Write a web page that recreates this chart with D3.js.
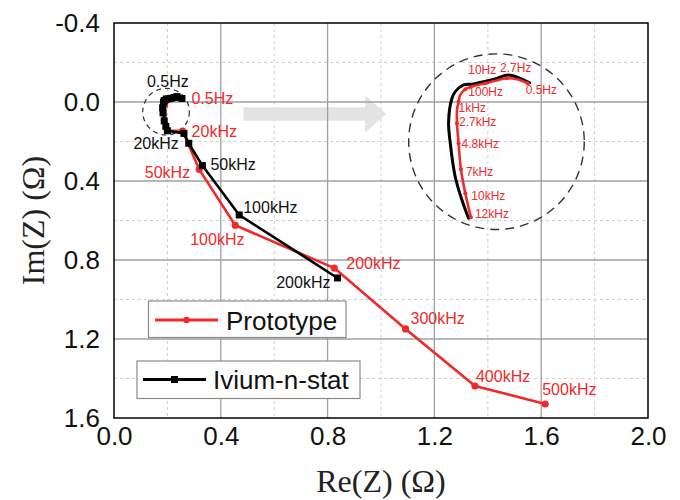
<!DOCTYPE html>
<html>
<head>
<meta charset="utf-8">
<script src="https://cdn.jsdelivr.net/npm/d3@7/dist/d3.min.js"></script>
<style>
  html, body { margin: 0; padding: 0; background: #fff; }
  svg { display: block; }
</style>
</head>
<body>
<svg id="chart" width="680" height="500"></svg>
<script>
// ---------------- data ----------------
const xTicks = [0.0, 0.4, 0.8, 1.2, 1.6, 2.0];
const yTicks = [-0.4, 0.0, 0.4, 0.8, 1.2, 1.6];
const xMinor = [0.2, 0.6, 1.0, 1.4, 1.8];
const yMinor = [-0.2, 0.2, 0.6, 1.0, 1.4];

const protoRe = [0.2527, 0.2432, 0.2343, 0.2238, 0.2149, 0.2045, 0.1971, 0.1926, 0.1911, 0.1897, 0.1897, 0.1911, 0.1932, 0.1971, 0.2021, 0.257, 0.319, 0.454, 0.825, 1.092, 1.352, 1.615];
const protoIm = [-0.0172, -0.0220, -0.0232, -0.0203, -0.0172, -0.0139, -0.0100, -0.0031, 0.0050, 0.0150, 0.0310, 0.0551, 0.0865, 0.1154, 0.1443, 0.147, 0.341, 0.624, 0.841, 1.149, 1.438, 1.529];
const protoFreq = ["0.5Hz", "", "2.7Hz", "", "10Hz", "", "100Hz", "", "1kHz", "", "2.7kHz", "4.8kHz", "7kHz", "10kHz", "12kHz", "20kHz", "50kHz", "100kHz", "200kHz", "300kHz", "400kHz", "500kHz"];

const iviumRe = [0.2544, 0.2357, 0.2253, 0.2134, 0.2045, 0.1955, 0.1881, 0.1852, 0.1822, 0.1837, 0.1881, 0.1941, 0.2000, 0.262, 0.280, 0.331, 0.469, 0.837];
const iviumIm = [-0.0179, -0.0272, -0.0232, -0.0191, -0.0164, -0.0152, -0.0071, 0.0009, 0.0291, 0.0551, 0.0954, 0.1235, 0.1455, 0.159, 0.209, 0.322, 0.572, 0.891];
const iviumFreq = ["0.5Hz", "", "", "", "", "", "", "", "", "", "", "", "20kHz", "", "", "50kHz", "100kHz", "200kHz"];

const protoMainLabels = ["0.5Hz", "20kHz", "50kHz", "100kHz", "200kHz", "300kHz", "400kHz", "500kHz"];
const protoInsetLabels = ["0.5Hz", "2.7Hz", "10Hz", "100Hz", "1kHz", "2.7kHz", "4.8kHz", "7kHz", "10kHz", "12kHz"];
const iviumMainLabels = ["0.5Hz", "20kHz", "50kHz", "100kHz", "200kHz"];

const seriesNames = ["Prototype", "Ivium-n-stat"];
const xTitle = "Re(Z) (Ω)";
const yTitle = "Im(Z) (Ω)";

// zoom (inset) geometry in data units
const zoomSrc = [0.2249, 0.0532];     // centre of magnified region
const zoomDst = [1.4325, 0.201];      // centre of inset
const zoomK = 4.2;
const smallCircle = [0.195, 0.049];
const arrowFrom = [0.485, 0.0608], arrowTo = [1.019, 0.0608];

// ---------------- styles ----------------
const RED = "#ee2a2a", BLACK = "#000";
const protoMainOff = {
  "0.5Hz": [10, 5, "start"], "20kHz": [9, 6, "start"], "50kHz": [-9, 9, "end"],
  "100kHz": [-45, 20, "start"], "200kHz": [12, 1, "start"], "300kHz": [5, -5, "start"],
  "400kHz": [1, -4, "start"], "500kHz": [-3, -9, "start"]
};
const iviumMainOff = {
  "0.5Hz": [-35, -11, "start"], "20kHz": [-34, 18, "start"], "50kHz": [8, 4, "start"],
  "100kHz": [4, -2, "start"], "200kHz": [-7, 10, "end"]
};
const protoInsetOff = {
  "0.5Hz": [-2, 11], "2.7Hz": [-7, -6], "10Hz": [-17, -9], "100Hz": [3, 7], "1kHz": [0, 10],
  "2.7kHz": [2, 3], "4.8kHz": [3, 5], "7kHz": [5, 7], "10kHz": [6, 7], "12kHz": [4, 1]
};

// ---------------- chart ----------------
const svg = d3.select("#chart");
const L = 114, R = 648, T = 23, B = 418;
const x = d3.scaleLinear().domain([0, 2]).range([L, R]);
const y = d3.scaleLinear().domain([-0.4, 1.6]).range([T, B]);

const proto = protoRe.map((v, i) => ({re: v, im: protoIm[i], f: protoFreq[i]}));
const ivium = iviumRe.map((v, i) => ({re: v, im: iviumIm[i], f: iviumFreq[i]}));

// grid
const g = svg.append("g");
g.selectAll(".xm").data(xMinor).join("line")
  .attr("x1", d => x(d)).attr("x2", d => x(d)).attr("y1", T).attr("y2", B)
  .attr("stroke", "#d0d0d0").attr("stroke-width", 1).attr("stroke-dasharray", "3,3");
g.selectAll(".ym").data(yMinor).join("line")
  .attr("y1", d => y(d)).attr("y2", d => y(d)).attr("x1", L).attr("x2", R)
  .attr("stroke", "#d0d0d0").attr("stroke-width", 1).attr("stroke-dasharray", "3,3");

// arrow (under major grid)
{
  const x0 = x(arrowFrom[0]), x1 = x(arrowTo[0]), yc = y(arrowFrom[1]);
  const headLen = 21, bodyH = 13.4, headH = 37.7;
  const pts = [[x0, yc - bodyH / 2], [x1 - headLen, yc - bodyH / 2], [x1 - headLen, yc - headH / 2], [x1, yc],
               [x1 - headLen, yc + headH / 2], [x1 - headLen, yc + bodyH / 2], [x0, yc + bodyH / 2]];
  svg.append("polygon").attr("points", pts.map(p => p.join(",")).join(" "))
    .attr("fill", "#e3e3e3");
}

const gm = svg.append("g");
gm.selectAll(".xg").data(xTicks.slice(1, -1)).join("line")
  .attr("x1", d => x(d)).attr("x2", d => x(d)).attr("y1", T).attr("y2", B)
  .attr("stroke", "#a0a0a0").attr("stroke-width", 1.3);
gm.selectAll(".yg").data(yTicks.slice(1, -1)).join("line")
  .attr("y1", d => y(d)).attr("y2", d => y(d)).attr("x1", L).attr("x2", R)
  .attr("stroke", "#a0a0a0").attr("stroke-width", 1.3);

// frame
svg.append("rect").attr("x", L).attr("y", T).attr("width", R - L).attr("height", B - T)
  .attr("fill", "none").attr("stroke", "#000").attr("stroke-width", 1.5);

// axes tick labels
const xAxis = d3.axisBottom(x).tickValues(xTicks).tickFormat(d3.format(".1f")).tickSize(0).tickPadding(9);
const yAxis = d3.axisLeft(y).tickValues(yTicks).tickFormat(d3.format(".1f")).tickSize(0).tickPadding(14);
const gx = svg.append("g").attr("transform", `translate(0,${B})`).call(xAxis);
const gy = svg.append("g").attr("transform", `translate(${L},0)`).call(yAxis);
[gx, gy].forEach(a => {
  a.select(".domain").remove();
  a.selectAll("text").attr("font-family", "'Liberation Sans', Arial, sans-serif")
    .attr("font-size", 26).attr("fill", "#111");
});
gy.selectAll("text").text(d => d3.format(".1f")(d).replace("−", "-"));

// axis titles
svg.append("text").attr("x", (L + R) / 2).attr("y", 492).attr("text-anchor", "middle")
  .attr("font-family", "'Liberation Serif', 'Times New Roman', serif").attr("font-size", 32)
  .attr("fill", "#222").text(xTitle);
svg.append("text").attr("transform", `translate(44,${(T + B) / 2}) rotate(-90)`).attr("text-anchor", "middle")
  .attr("font-family", "'Liberation Serif', 'Times New Roman', serif").attr("font-size", 32)
  .attr("fill", "#222").text(yTitle);

// dashed circles
svg.append("circle").attr("cx", x(smallCircle[0])).attr("cy", y(smallCircle[1])).attr("r", 23.3)
  .attr("fill", "none").attr("stroke", "#333").attr("stroke-width", 1.2).attr("stroke-dasharray", "5,4");
svg.append("circle").attr("cx", x(zoomDst[0])).attr("cy", y(zoomDst[1])).attr("r", 87.8)
  .attr("fill", "none").attr("stroke", "#333").attr("stroke-width", 1.4).attr("stroke-dasharray", "9,6");

// main lines
const line = d3.line().x(d => x(d.re)).y(d => y(d.im));
svg.append("path").attr("d", line(proto)).attr("fill", "none").attr("stroke", RED).attr("stroke-width", 2.6)
  .attr("stroke-linejoin", "round");
svg.selectAll(".pdot").data(proto.filter(d => protoMainLabels.includes(d.f) || d.f === "")).join("circle")
  .attr("cx", d => x(d.re)).attr("cy", d => y(d.im)).attr("r", 3.6).attr("fill", RED);

svg.append("path").attr("d", line(ivium)).attr("fill", "none").attr("stroke", BLACK).attr("stroke-width", 2.6)
  .attr("stroke-linejoin", "round");
svg.selectAll(".isq").data(ivium).join("rect")
  .attr("x", d => x(d.re) - 3.5).attr("y", d => y(d.im) - 3.5).attr("width", 7).attr("height", 7).attr("fill", BLACK);

// main labels
const lblFont = "'Liberation Sans', Arial, sans-serif";
svg.selectAll(".plab").data(proto.filter(d => protoMainLabels.includes(d.f))).join("text")
  .attr("x", d => x(d.re) + protoMainOff[d.f][0]).attr("y", d => y(d.im) + protoMainOff[d.f][1])
  .attr("text-anchor", d => protoMainOff[d.f][2])
  .attr("font-family", lblFont).attr("font-size", 16).attr("fill", RED).text(d => d.f);
svg.selectAll(".ilab").data(ivium.filter(d => iviumMainLabels.includes(d.f))).join("text")
  .attr("x", d => x(d.re) + iviumMainOff[d.f][0]).attr("y", d => y(d.im) + iviumMainOff[d.f][1])
  .attr("text-anchor", d => iviumMainOff[d.f][2])
  .attr("font-family", lblFont).attr("font-size", 16).attr("fill", "#111").text(d => d.f);

// inset (magnified view of the same data)
const ix = v => x(zoomDst[0]) + (x(v) - x(zoomSrc[0])) * zoomK;
const iy = v => y(zoomDst[1]) + (y(v) - y(zoomSrc[1])) * zoomK;
const insetLine = d3.line().x(d => ix(d.re)).y(d => iy(d.im)).curve(d3.curveCatmullRom.alpha(0.5));
const protoLow = proto.filter(d => d.im < 0.146 && d.re < 0.256);
const iviumLow = ivium.filter(d => d.im < 0.146 && d.re < 0.256);
svg.append("path").attr("d", insetLine(iviumLow)).attr("fill", "none").attr("stroke", BLACK)
  .attr("stroke-width", 3).attr("stroke-linejoin", "round").attr("stroke-linecap", "round");
svg.append("path").attr("d", insetLine(protoLow)).attr("fill", "none").attr("stroke", RED)
  .attr("stroke-width", 2.6).attr("stroke-linejoin", "round").attr("stroke-linecap", "round");
svg.selectAll(".idot").data(protoLow.filter(d => protoInsetLabels.includes(d.f))).join("circle")
  .attr("cx", d => ix(d.re)).attr("cy", d => iy(d.im)).attr("r", 2).attr("fill", RED);
svg.selectAll(".inlab").data(protoLow.filter(d => protoInsetLabels.includes(d.f))).join("text")
  .attr("x", d => ix(d.re) + protoInsetOff[d.f][0]).attr("y", d => iy(d.im) + protoInsetOff[d.f][1])
  .attr("font-family", lblFont).attr("font-size", 12).attr("fill", RED).text(d => d.f);

// legends
const lg = svg.append("g");
function legendBox(bx, by, bw, bh, lx0, lx1, ly, tx, name, color, marker) {
  lg.append("rect").attr("x", bx).attr("y", by).attr("width", bw).attr("height", bh)
    .attr("fill", "#fff").attr("stroke", "#8a8a8a").attr("stroke-width", 1.2);
  lg.append("line").attr("x1", lx0).attr("x2", lx1).attr("y1", ly).attr("y2", ly)
    .attr("stroke", color).attr("stroke-width", 2.8);
  const mx = (lx0 + lx1) / 2;
  if (marker === "circle") lg.append("circle").attr("cx", mx).attr("cy", ly).attr("r", 3.2).attr("fill", color);
  else lg.append("rect").attr("x", mx - 3.5).attr("y", ly - 3.5).attr("width", 7).attr("height", 7).attr("fill", color);
  lg.append("text").attr("x", tx).attr("y", ly + 9.5).attr("font-family", lblFont).attr("font-size", 26)
    .attr("fill", "#111").text(name);
}
legendBox(148.5, 301, 197.5, 36.5, 155, 218, 320, 226, seriesNames[0], RED, "circle");
legendBox(137, 361, 223, 37.5, 143, 206, 379.5, 213, seriesNames[1], BLACK, "square");
</script>
</body>
</html>
